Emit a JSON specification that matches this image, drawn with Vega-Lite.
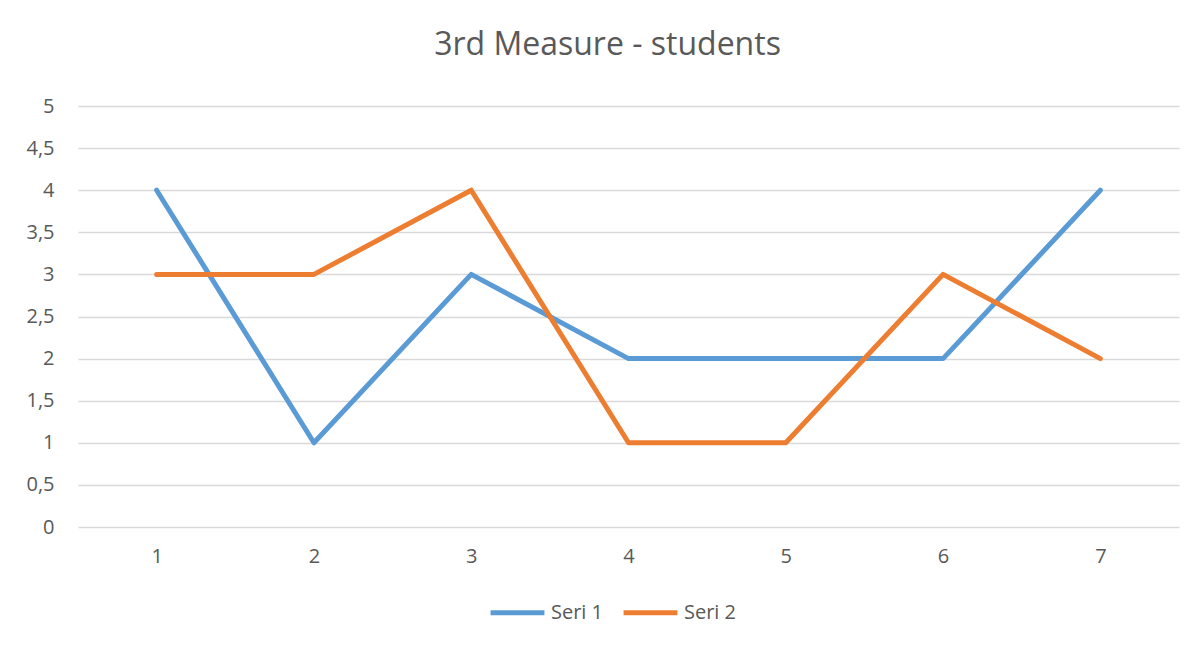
{
  "$schema": "https://vega.github.io/schema/vega-lite/v6.json",
  "autosize": {"type": "none"},
  "width": 1101,
  "height": 421,
  "padding": {"left": 78, "top": 106, "right": 24, "bottom": 118},
  "background": "white",
  "title": {"text": "3rd Measure - students", "fontSize": 32, "font": "Open Sans", "fontWeight": "normal", "color": "#595959", "anchor": "middle", "dx": -21, "offset": 34},
  "data": {"values": [
    {"x": "1", "series": "Seri 1", "v": 4},
    {"x": "2", "series": "Seri 1", "v": 1},
    {"x": "3", "series": "Seri 1", "v": 3},
    {"x": "4", "series": "Seri 1", "v": 2},
    {"x": "5", "series": "Seri 1", "v": 2},
    {"x": "6", "series": "Seri 1", "v": 2},
    {"x": "7", "series": "Seri 1", "v": 4},
    {"x": "1", "series": "Seri 2", "v": 3},
    {"x": "2", "series": "Seri 2", "v": 3},
    {"x": "3", "series": "Seri 2", "v": 4},
    {"x": "4", "series": "Seri 2", "v": 1},
    {"x": "5", "series": "Seri 2", "v": 1},
    {"x": "6", "series": "Seri 2", "v": 3},
    {"x": "7", "series": "Seri 2", "v": 2}
  ]},
  "mark": {"type": "line", "strokeWidth": 5, "strokeCap": "round", "strokeJoin": "round"},
  "encoding": {
    "x": {"field": "x", "type": "ordinal", "scale": {"type": "point", "padding": 0.5},
      "axis": {"title": null, "labelAngle": 0, "domain": false, "ticks": false, "grid": false, "labelPadding": 19, "labelFontSize": 20, "labelFont": "Open Sans", "labelColor": "#595959"}},
    "y": {"field": "v", "type": "quantitative", "scale": {"domain": [0, 5]},
      "axis": {"title": null, "values": [0, 0.5, 1, 1.5, 2, 2.5, 3, 3.5, 4, 4.5, 5], "labelExpr": "replace(format(datum.value, ''), '.', ',')", "domain": false, "ticks": false, "gridColor": "#d9d9d9", "gridWidth": 1.3, "labelPadding": 24, "labelFontSize": 20, "labelFont": "Open Sans", "labelColor": "#595959"}},
    "color": {"field": "series", "type": "nominal", "scale": {"domain": ["Seri 1", "Seri 2"], "range": ["#5B9BD5", "#ED7D31"]},
      "legend": {"title": null, "orient": "none", "direction": "horizontal", "legendX": 410, "legendY": 477, "symbolType": "stroke", "symbolStrokeWidth": 5, "symbolSize": 2900, "labelFontSize": 20, "labelFont": "Open Sans", "labelColor": "#595959", "labelOffset": 4, "columnPadding": 9}}
  },
  "config": {"view": {"stroke": null}}
}
